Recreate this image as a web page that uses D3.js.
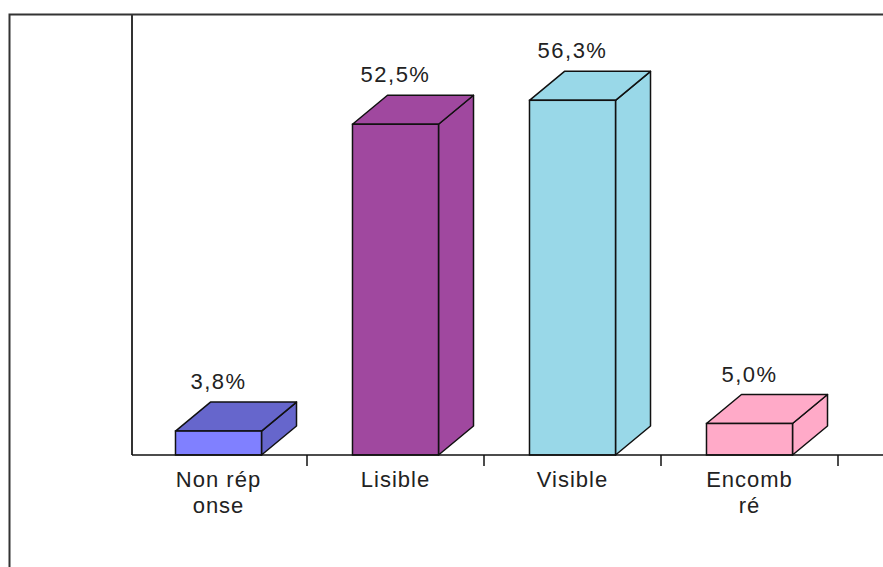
<!DOCTYPE html>
<html>
<head>
<meta charset="utf-8">
<script src="https://cdn.jsdelivr.net/npm/d3@7"></script>
<style>
  body { margin: 0; background: #fff; }
  text { font-family: "Liberation Sans", Arial, sans-serif; fill: #222; }
</style>
</head>
<body>
<svg id="chart" width="883" height="567"></svg>
<script>
// chart data
const categories = ["Non rép onse", "Lisible", "Visible", "Encomb ré"];
const labelLines = [["Non rép", "onse"], ["Lisible"], ["Visible"], ["Encomb", "ré"]];
const values = [3.8, 52.5, 56.3, 5.0];
const valueLabels = ["3,8%", "52,5%", "56,3%", "5,0%"];

const frontColors = ["#8080ff", "#a0489f", "#99d8e8", "#ffaac8"];
const sideColors = ["#6666cc", "#a0489f", "#99d8e8", "#ffaac8"];

const svg = d3.select("#chart");

const axisX = 132, baseY = 455, topY = 14;
const depthX = 35, depthY = -29;

let x = d3.scaleBand().domain(categories).range([130, 838]).padding(0);
let y = d3.scaleLinear().domain([0, 70]).range([baseY, topY]);

const barW = x.bandwidth() * 0.486;

// outer frame
svg.append("path")
    .attr("d", `M9.5,567 V14.5 H883`)
    .attr("fill", "none")
    .attr("stroke", "#333")
    .attr("stroke-width", 2);

// value axis line
svg.append("line")
    .attr("x1", axisX).attr("x2", axisX)
    .attr("y1", topY).attr("y2", baseY)
    .attr("stroke", "#333")
    .attr("stroke-width", 2);

// bars
const bars = svg.append("g")
    .selectAll(".bar")
    .data(categories)
    .enter()
    .append("g")
    .attr("class", "bar");

bars.each(function(d, i) {
    const g = d3.select(this);
    const x0 = x(d) + (x.bandwidth() - barW) / 2;
    const x1 = x0 + barW;
    const yt = y(values[i]);

    // right side
    g.append("path")
        .attr("d", `M${x1},${baseY} L${x1 + depthX},${baseY + depthY} L${x1 + depthX},${yt + depthY} L${x1},${yt} Z`)
        .attr("fill", sideColors[i])
        .attr("stroke", "#111")
        .attr("stroke-width", 1.5)
        .attr("stroke-linejoin", "round");

    // top
    g.append("path")
        .attr("d", `M${x0},${yt} L${x0 + depthX},${yt + depthY} L${x1 + depthX},${yt + depthY} L${x1},${yt} Z`)
        .attr("fill", sideColors[i])
        .attr("stroke", "#111")
        .attr("stroke-width", 1.5)
        .attr("stroke-linejoin", "round");

    // front
    g.append("rect")
        .attr("x", x0)
        .attr("y", yt)
        .attr("width", barW)
        .attr("height", baseY - yt)
        .attr("fill", frontColors[i])
        .attr("stroke", "#111")
        .attr("stroke-width", 1.5);

    // value label
    g.append("text")
        .attr("x", x(d) + x.bandwidth() / 2)
        .attr("y", yt + depthY - 13)
        .attr("text-anchor", "middle")
        .attr("font-size", "22px")
        .attr("letter-spacing", "1.5px")
        .text(valueLabels[i]);
});

// category axis
svg.append("line")
    .attr("x1", axisX).attr("x2", 883)
    .attr("y1", baseY).attr("y2", baseY)
    .attr("stroke", "#111")
    .attr("stroke-width", 1.5);

svg.append("g")
    .selectAll(".tick")
    .data(categories)
    .enter()
    .append("line")
    .attr("x1", d => x(d) + x.bandwidth())
    .attr("x2", d => x(d) + x.bandwidth())
    .attr("y1", baseY)
    .attr("y2", baseY + 11)
    .attr("stroke", "#111")
    .attr("stroke-width", 1.5);

const catLabels = svg.append("g")
    .selectAll(".cat")
    .data(categories)
    .enter()
    .append("text")
    .attr("class", "cat")
    .attr("text-anchor", "middle")
    .attr("font-size", "22px")
    .attr("letter-spacing", "1px");

catLabels.selectAll("tspan")
    .data((d, i) => labelLines[i].map(t => ({t: t, c: d})))
    .enter()
    .append("tspan")
    .attr("x", d => x(d.c) + x.bandwidth() / 2)
    .attr("y", (d, j) => 487 + j * 26)
    .text(d => d.t);
</script>
</body>
</html>
